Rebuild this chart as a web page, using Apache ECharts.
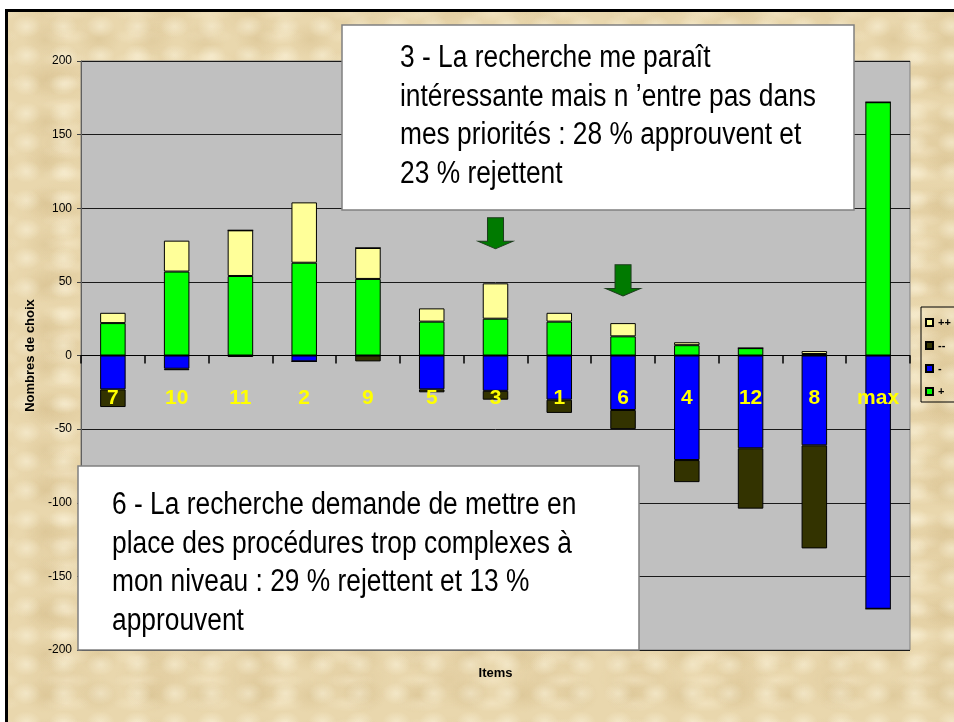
<!DOCTYPE html>
<html>
<head>
<meta charset="utf-8">
<script src="https://cdn.jsdelivr.net/npm/echarts@6/dist/echarts.min.js"></script>
<style>
  html, body { margin: 0; padding: 0; background: #fff; overflow: hidden; }
  #frame {
    position: absolute; left: 5px; top: 9px; width: 1000px; height: 800px;
    border-left: 3px solid #000; border-top: 3px solid #000;
    background-color: #e9d7ad;
    background-image:
      radial-gradient(ellipse at center, rgba(255,250,230,0.45) 0, rgba(255,250,230,0) 55%),
      radial-gradient(ellipse at center, rgba(190,160,100,0.22) 0, rgba(190,160,100,0) 60%),
      radial-gradient(ellipse at center, rgba(255,245,220,0.35) 0, rgba(255,245,220,0) 50%),
      radial-gradient(ellipse at center, rgba(200,170,115,0.2) 0, rgba(200,170,115,0) 65%);
    background-size: 37px 29px, 53px 41px, 71px 23px, 97px 67px;
    background-position: 0 0, 11px 7px, 23px 13px, 5px 31px;
  }
  #chart { position: absolute; left: 0; top: 0; width: 954px; height: 722px; }
</style>
</head>
<body>
<div id="frame"></div>
<div id="chart"></div>
<script>
const categories = ["7", "10", "11", "2", "9", "5", "3", "1", "6", "4", "12", "8", "max"];
const plus = [22, 57, 54, 63, 52, 23, 25, 23, 13, 7, 5, 1, 172];
const plusPlus = [7, 21, 31, 41, 21, 9, 24, 6, 9, 2, 0, 2, 0];
const minus = [-23, -9, 0, -4, 0, -23, -24, -30, -37, -71, -63, -61, -172];
const minusMinus = [-12, -1, -1, 0, -4, -2, -6, -9, -13, -15, -41, -70, 0];
const legendOrder = ["++", "--", "-", "+"];
const yMin = -200, yMax = 200, yStep = 50;
// arrows pointing at items 3 and 6 (category, value)
const arrowMarks = [["3", 83], ["6", 51]];

const sans = "'Liberation Sans', Arial, sans-serif";
const box1Lines = [
  "3 - La recherche me paraît",
  "intéressante mais n ’entre pas dans",
  "mes priorités : 28 % approuvent et",
  "23 % rejettent"
];
const box2Lines = [
  "6 - La recherche demande de mettre en",
  "place des procédures trop complexes à",
  "mon niveau : 29 % rejettent et 13 %",
  "approuvent"
];

function textBox(x, y, w, h, textX, firstY, lines) {
  const els = [{
    type: "rect",
    z: 100,
    shape: { x: x, y: y, width: w, height: h },
    style: { fill: "#fff", stroke: "#808080", lineWidth: 1.5 }
  }];
  lines.forEach((t, i) => {
    els.push({
      type: "text",
      z: 101,
      x: textX, y: firstY + i * 38.7,
      scaleX: 0.85,
      style: { text: t, font: "31px " + sans, fill: "#000", verticalAlign: "middle", align: "left" }
    });
  });
  return els;
}

const barBase = {
  type: "bar",
  stack: "total",
  barWidth: "40%",
  itemStyle: { borderColor: "#000", borderWidth: 1 }
};

const gridBottom = 72;
const chartHeight = 722;

const chart = echarts.init(document.getElementById("chart"));
chart.setOption({
  backgroundColor: "transparent",
  animation: false,
  grid: {
    left: 81, top: 61, right: 44, bottom: gridBottom,
    containLabel: false, outerBoundsMode: "none",
    show: true, backgroundColor: "#c0c0c0", borderColor: "#808080", borderWidth: 1
  },
  legend: {
    data: legendOrder,
    orient: "vertical",
    left: 921, top: 307,
    padding: [10, 40, 5, 4],
    itemWidth: 7, itemHeight: 7, itemGap: 12,
    icon: "rect",
    borderColor: "#000", borderWidth: 1,
    textStyle: { fontFamily: sans, fontSize: 11, fontWeight: "bold", color: "#000", lineHeight: 11 }
  },
  xAxis: {
    type: "category",
    data: categories,
    z: 10,
    name: "Items",
    nameLocation: "middle",
    nameGap: 311,
    nameTextStyle: { fontFamily: sans, fontSize: 13, fontWeight: "bold", color: "#000" },
    axisLine: { onZero: true, lineStyle: { color: "#000", width: 1 } },
    axisTick: { show: true, length: 8, lineStyle: { color: "#000", width: 1.5 } },
    axisLabel: { color: "#ffff00", fontFamily: sans, fontWeight: "bold", fontSize: 21, margin: 32 }
  },
  yAxis: {
    type: "value",
    min: yMin, max: yMax, interval: yStep,
    name: "Nombres de choix",
    nameLocation: "middle",
    nameRotate: 90,
    nameGap: 37,
    nameTextStyle: { fontFamily: sans, fontSize: 13, fontWeight: "bold", color: "#000" },
    axisLine: { show: true, onZero: false, lineStyle: { color: "#606060" } },
    axisTick: { show: true, length: 4, lineStyle: { color: "#404040" } },
    axisLabel: { color: "#000", fontFamily: sans, fontSize: 12, margin: 9 },
    splitLine: { lineStyle: { color: "#1a1a1a", width: 1 } }
  },
  series: [
    Object.assign({}, barBase, {
      name: "+", data: plus,
      itemStyle: { color: "#00ff00", borderColor: "#000", borderWidth: 1 },
      markPoint: {
        symbol: "path://M9.5,0 L25.5,0 L25.5,25 L35,25 L17.5,33 L0,25 L9.5,25 Z",
        symbolSize: [35, 33],
        symbolKeepAspect: true,
        label: { show: false },
        itemStyle: { color: "#007a00", borderColor: "#1e3d1e", borderWidth: 1 },
        data: arrowMarks.map(a => ({ coord: a }))
      }
    }),
    Object.assign({}, barBase, { name: "++", data: plusPlus, itemStyle: { color: "#ffff99", borderColor: "#000", borderWidth: 1 } }),
    Object.assign({}, barBase, { name: "-", data: minus, itemStyle: { color: "#0000ff", borderColor: "#000", borderWidth: 1 } }),
    Object.assign({}, barBase, { name: "--", data: minusMinus, itemStyle: { color: "#333300", borderColor: "#000", borderWidth: 1 } })
  ],
  graphic: textBox(342, 25, 512, 185, 400, 58.5, box1Lines)
    .concat(textBox(78, 466, 561, 184, 112, 505.5, box2Lines))
});

// put the category axis on the zero line
const zeroY = chart.convertToPixel({ yAxisIndex: 0 }, 0);
const axisY = chartHeight - gridBottom;
if (Math.abs(axisY - zeroY) > 2) {
  chart.setOption({ xAxis: { axisLine: { onZero: false }, offset: zeroY - axisY } });
}
</script>
</body>
</html>
